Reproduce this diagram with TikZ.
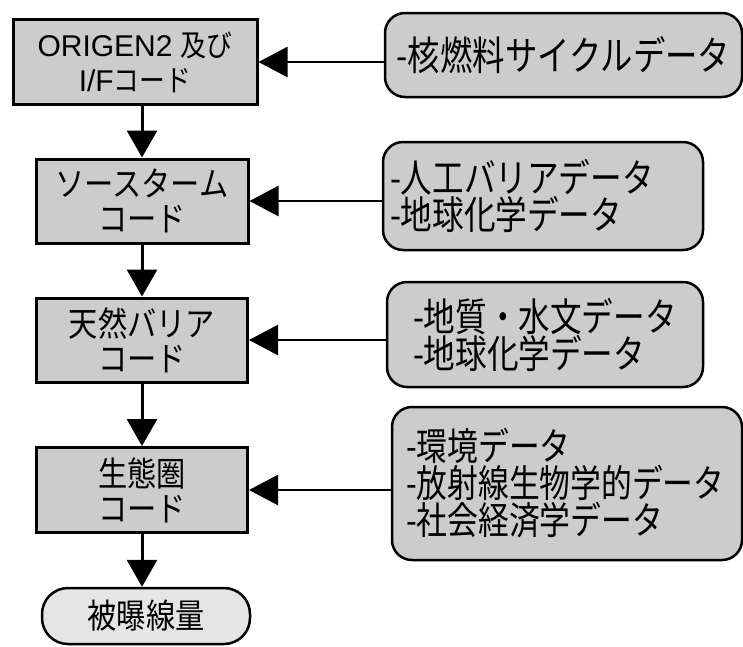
\documentclass[tikz,border=0pt]{standalone}
\usepackage{fontspec}
\setmainfont{Noto Sans CJK JP}
\newfontfamily\jpL{Noto Sans CJK JP}[FakeStretch=0.86]
\newfontfamily\jpR{Noto Sans CJK JP}[FakeStretch=0.81]
\newfontfamily\lat{Liberation Sans}
\usetikzlibrary{arrows.meta}
\definecolor{boxfill}{gray}{0.8}
\definecolor{termfill}{gray}{0.9}
\exhyphenpenalty=10000
\hbadness=10000
\hfuzz=100pt
\begin{document}
\begin{tikzpicture}[x=1pt,y=-1pt,
  ltxt/.style={font=\jpL\fontsize{34}{35}\selectfont},
  rtxt/.style={font=\jpR\fontsize{39}{37}\selectfont},
  codebox/.style={draw, line width=3pt, fill=boxfill, align=center, inner sep=0pt, ltxt},
  databox/.style={draw, line width=2.5pt, fill=boxfill, rounded corners=20pt, inner ysep=0pt, rtxt},
  termbox/.style={draw, line width=2.5pt, fill=termfill, rounded corners=26pt, align=center, inner sep=0pt, ltxt},
  vline/.style={line width=3pt, -{Triangle[length=27pt,width=30pt]}},
  hline/.style={line width=2.5pt, -{Triangle[length=29pt,width=30pt]}}]
\useasboundingbox (0,0) rectangle (743,646);
% left column
\node[codebox, minimum width=244pt, minimum height=85pt] (b1) at (135,62)
  {\fontsize{30}{34}\selectfont\lat ORIGEN2 \jpL 及び\\\fontsize{30}{34}\selectfont\lat I/F\jpL コード};
\node[codebox, minimum width=212pt, minimum height=84pt] (b2) at (142,201) {ソースターム\\コード};
\node[codebox, minimum width=211pt, minimum height=84pt] (b3) at (142,340) {天然バリア\\コード};
\node[codebox, minimum width=211pt, minimum height=85pt] (b4) at (142,490) {生態圏\\コード};
\node[termbox, minimum width=208pt, minimum height=56pt] (t) at (146,616) {被曝線量};
% right column
\node[databox, minimum width=357pt, minimum height=84pt, align=center, inner xsep=0pt,
  font=\jpR\fontsize{40}{37}\selectfont] (r1) at (563.5,55) {-核燃料サイクルデータ};
\node[databox, minimum height=108pt, inner xsep=7pt, text width=306pt, align=left] (r2) at (543,196) {-人工バリアデータ\\-地球化学データ};
\node[databox, minimum height=105pt, inner xsep=26pt, text width=264pt, align=left] (r3) at (545,334.5) {-地質・水文データ\\-地球化学データ};
\node[databox, minimum height=153pt, inner xsep=14pt, text width=322pt, align=left,
  font=\jpR\fontsize{38}{37}\selectfont] (r4) at (567,483.5) {-環境データ\\-放射線生物学的データ\\-社会経済学データ};
% connectors
\draw[vline] (b1.south -| b2.north) -- (b2.north);
\draw[vline] (b2) -- (b3);
\draw[vline] (b3) -- (b4);
\draw[vline] (b4.south) -- (b4.south |- t.north);
\draw[hline] (b1.east -| r1.west) -- (b1.east);
\draw[hline] (b2.east -| r2.west) -- (b2.east);
\draw[hline] (b3.east -| r3.west) -- (b3.east);
\draw[hline] (b4.east -| r4.west) -- (b4.east);
\end{tikzpicture}
\end{document}
